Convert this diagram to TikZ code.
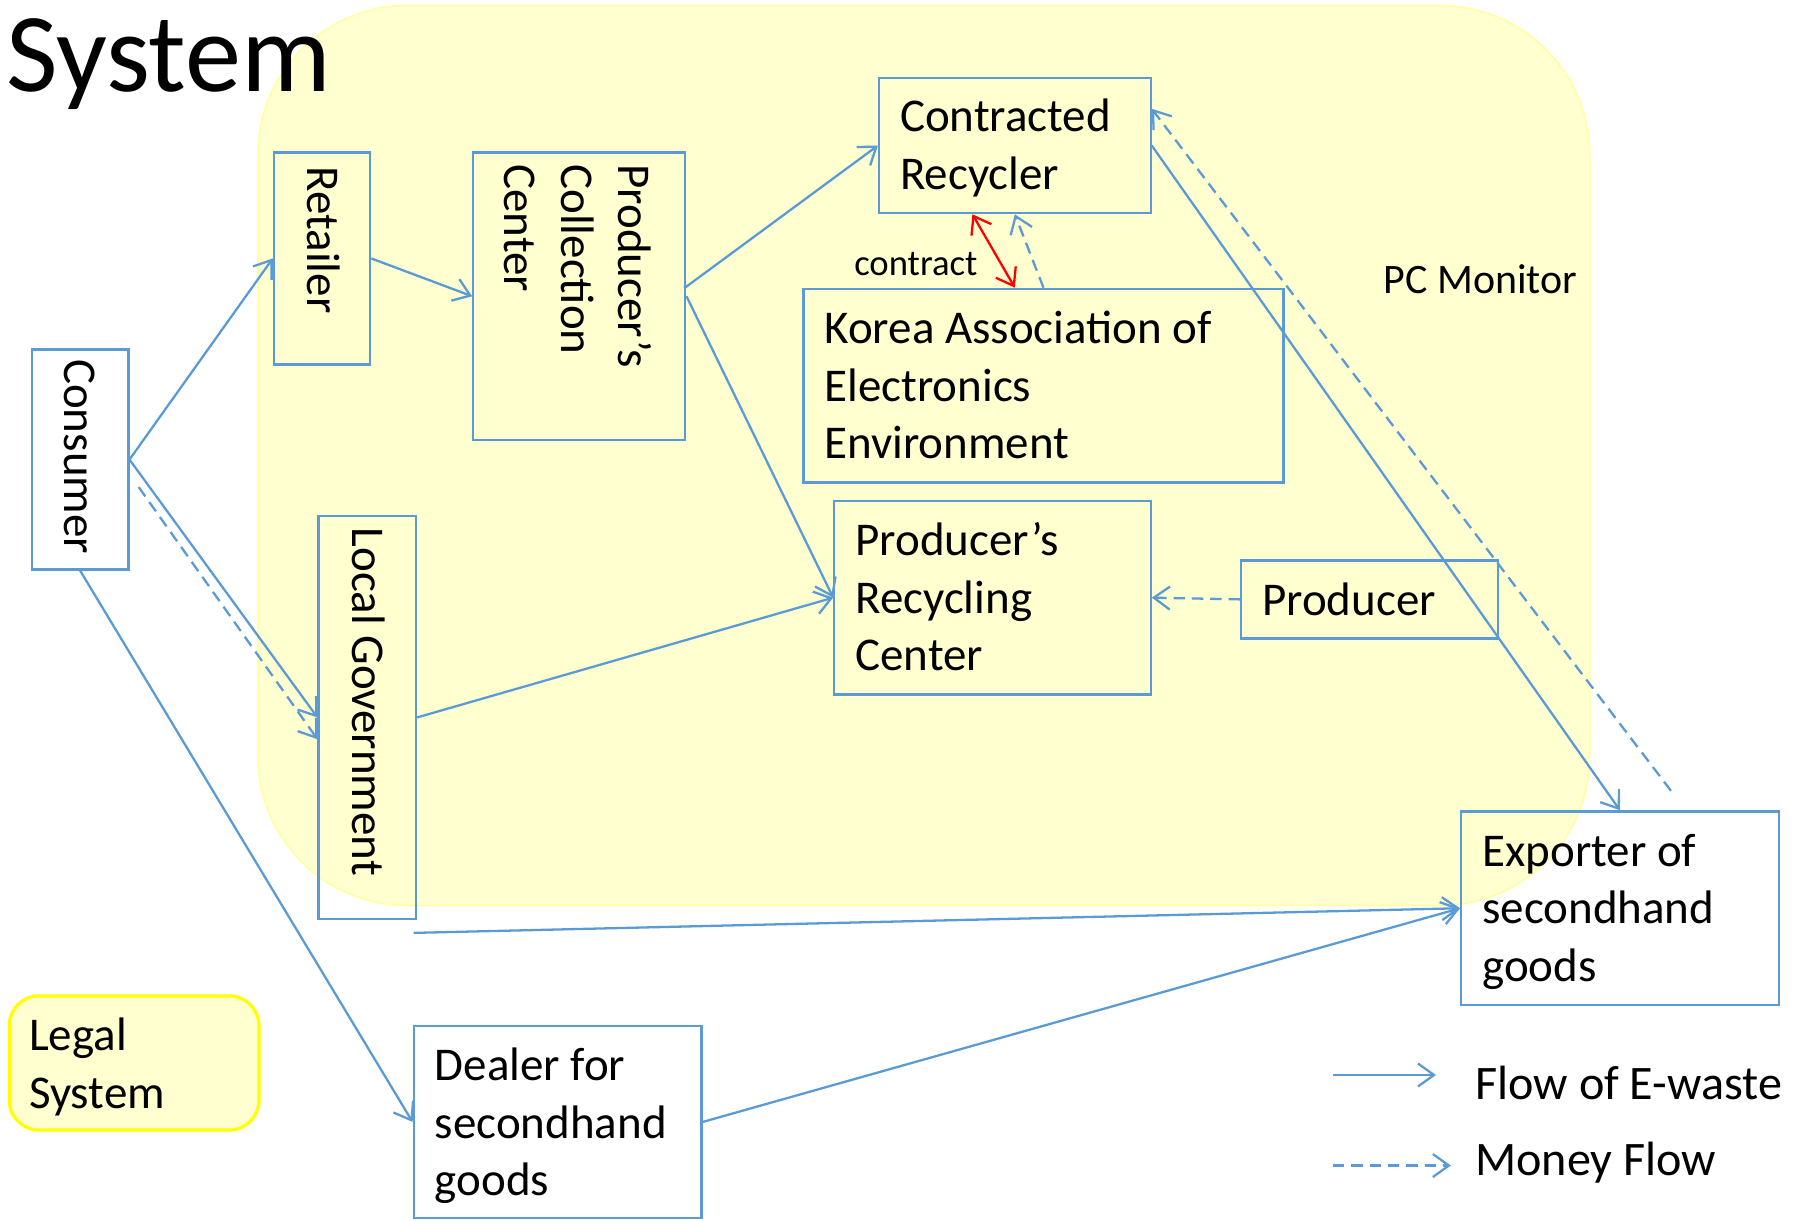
\documentclass[tikz,border=0pt]{standalone}
\usepackage{fontspec}
\setmainfont{Carlito}
\usetikzlibrary{arrows.meta,calc,fit}
\definecolor{eblue}{RGB}{91,155,213}
\definecolor{pale}{RGB}{255,255,208}
\definecolor{paleedge}{RGB}{255,255,170}
\definecolor{legalyellow}{RGB}{255,255,0}
\begin{document}
\begin{tikzpicture}[x=0.5pt,y=-0.5pt,
  box/.style={draw=eblue, line width=1pt, inner sep=0pt},
  region/.style={fill=pale, draw=paleedge, line width=0.8pt, rounded corners=65pt, inner sep=0pt},
  legalbox/.style={fill=pale, draw=legalyellow, line width=1.4pt, rounded corners=13pt, inner sep=0pt},
  txt/.style={font=\fontsize{20.5}{25}\selectfont, inner sep=0pt, align=left},
  vtxt/.style={txt, rotate=-90, anchor=base west},
  htxt/.style={txt, anchor=base west},
  flow/.style={draw=eblue, line width=1pt, -{Straight Barb[length=7pt,width=10pt]}},
  money/.style={flow, dash pattern=on 5pt off 3pt},
  contr/.style={draw=red, line width=1pt, {Straight Barb[length=7pt,width=10pt]}-{Straight Barb[length=7pt,width=10pt]}},
]
\useasboundingbox (0,0) rectangle (1568,1065);

% background region
\node[region, fit={(225,5) (1387,790)}] (pc) {};
\node[font=\fontsize{18.3}{22}\selectfont, anchor=base west, inner sep=0pt] (pcm) at (1207,256) {PC Monitor};

% title
\node[font=\fontsize{49}{58}\selectfont, anchor=base west, inner sep=0pt] (title) at (5,80) {System};

% legal system (anchor = baseline of last line)
\node[legalbox, fit={(8,869) (226,986)}] (legal) {};
\node[htxt] (legalT) at (25,967) {Legal\\System};

% boxes
\node[box, fit={(28,305) (112,497)}] (cons) {};
\node[vtxt] (consT) at (56,313) {Consumer};

\node[box, fit={(239,133) (323,318)}] (ret) {};
\node[vtxt] (retT) at (268,145) {Retailer};

\node[box, fit={(413,133) (598,384)}] (pcc) {};
\node[vtxt] (pccT) at (440,143) {Producer’s\\Collection\\Center};

\node[box, fit={(767,68) (1004,186)}] (cr) {};
\node[htxt] (crT) at (785,165) {Contracted\\Recycler};

\node[box, fit={(701,252) (1120,421)}] (korea) {};
\node[htxt] (koreaT) at (719,400) {Korea Association of\\Electronics\\Environment};

\node[box, fit={(728,437) (1004,606)}] (prc) {};
\node[htxt] (prcT) at (746,585) {Producer’s\\Recycling\\Center};

\node[box, fit={(1083,489) (1307,557)}] (prod) {};
\node[htxt] (prodT) at (1101,537) {Producer};

\node[box, fit={(278,450) (363,802)}] (lg) {};
\node[vtxt] (lgT) at (308,460) {Local Government};

\node[box, fit={(1275,708) (1552,877)}] (exp) {};
\node[htxt] (expT) at (1293,856) {Exporter of\\secondhand\\goods};

\node[box, fit={(361,895) (612,1063)}] (deal) {};
\node[htxt] (dealT) at (379,1043) {Dealer for\\secondhand\\goods};

% contract label
\node[font=\fontsize{16}{19}\selectfont, anchor=base west, inner sep=0pt] (contractT) at (745,240) {contract};

% flows of e-waste
\draw[flow] (cons.east) -- (ret.west);
\draw[flow] (ret.east) -- (pcc.west);
\draw[flow] ($(pcc.east)+(-2,-7)$) -- (cr.west);
\draw[flow] (pcc.east) -- (prc.west);
\draw[flow] (cons.east) -- (lg.west);
\draw[flow] (lg.east) -- (prc.west);
\coordinate (lgout) at (361,814);
\draw[flow] (lgout) -- (exp.west);
\draw[flow] (cons.south) -- (deal.west);
\draw[flow] (deal.east) -- (exp.west);
\draw[flow] (cr.east) -- (exp.north);

% money flows
\draw[money] ($(cons.east)+(8,24)$) -- ($(lg.west)+(0,19)$);
\draw[money] (prod.west) -- (prc.east);
\draw[money] (korea.north) -- (cr.south);
\coordinate (expmoney) at (1458,690);
\draw[money] (expmoney) -- ($(cr.east)+(0,-32)$);

% contract
\draw[contr] ($(cr.south)+(-37,0)$) -- ($(korea.north)+(-25,0)$);

% legend
\coordinate (l1a) at (1163,938);
\coordinate (l1b) at (1253,938);
\coordinate (l2a) at (1163,1017);
\coordinate (l2b) at (1266,1017);
\draw[flow] (l1a) -- (l1b);
\draw[money] (l2a) -- (l2b);
\node[font=\fontsize{21}{25}\selectfont, anchor=base west, inner sep=0pt] (leg1) at (1287,959) {Flow of E-waste};
\node[font=\fontsize{21}{25}\selectfont, anchor=base west, inner sep=0pt] (leg2) at (1287,1026) {Money Flow};
\end{tikzpicture}
\end{document}
